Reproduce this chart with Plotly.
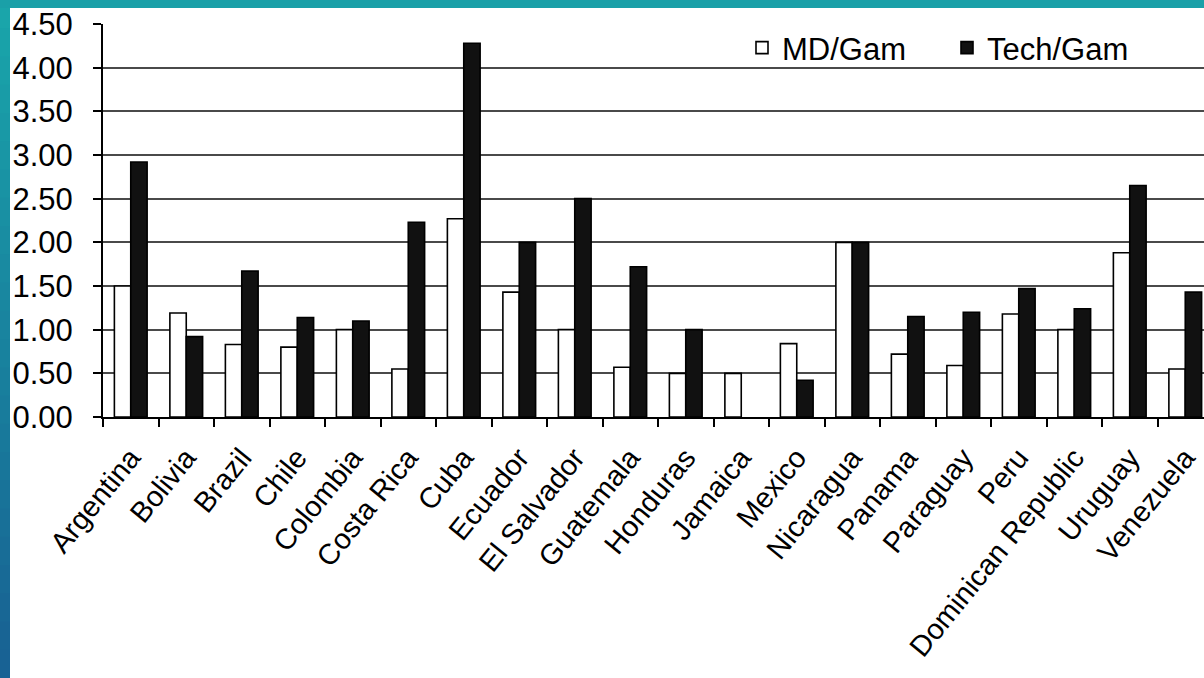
import plotly.graph_objects as go

countries = ["Argentina", "Bolivia", "Brazil", "Chile", "Colombia", "Costa Rica", "Cuba",
             "Ecuador", "El Salvador", "Guatemala", "Honduras", "Jamaica", "Mexico",
             "Nicaragua", "Panama", "Paraguay", "Peru", "Dominican Republic", "Uruguay",
             "Venezuela"]
md_gam = [1.50, 1.19, 0.83, 0.80, 1.00, 0.55, 2.27, 1.43, 1.00, 0.57, 0.50, 0.50, 0.84,
          2.00, 0.72, 0.59, 1.18, 1.00, 1.88, 0.55]
tech_gam = [2.92, 0.92, 1.67, 1.14, 1.10, 2.23, 4.28, 2.00, 2.50, 1.72, 1.00, None, 0.42,
            2.00, 1.15, 1.20, 1.47, 1.24, 2.65, 1.43]
y_ticks = [0, 0.5, 1.0, 1.5, 2.0, 2.5, 3.0, 3.5, 4.0, 4.5]

W, H = 1204, 678
L, T, B = 103, 24, 261
PW = W - L
PH = H - T - B

def px_x(p):
    return (p - L) / PW

def px_y(q):
    return (H - B - q) / PH

FONT = "Liberation Sans, Arial, sans-serif"

fig = go.Figure()
fig.add_trace(go.Bar(name="MD/Gam", x=countries, y=md_gam,
                     marker=dict(color="white", line=dict(color="black", width=1.6))))
fig.add_trace(go.Bar(name="Tech/Gam", x=countries, y=tech_gam,
                     marker=dict(color="#111111", line=dict(color="black", width=1.6))))

# decorative slide background strips (teal gradient)
shapes = []
top_c = (26, 165, 170)
bot_c = (24, 98, 148)
n = 24
for i in range(n):
    t = i / (n - 1)
    c = tuple(int(top_c[k] + (bot_c[k] - top_c[k]) * t) for k in range(3))
    q0 = i * H / n
    q1 = (i + 1) * H / n + 1
    shapes.append(dict(type="rect", xref="paper", yref="paper",
                       x0=px_x(0), x1=px_x(10), y0=px_y(q1), y1=px_y(q0),
                       fillcolor="rgb(%d,%d,%d)" % c, line=dict(width=0), layer="below"))
shapes.append(dict(type="rect", xref="paper", yref="paper",
                   x0=px_x(0), x1=px_x(W + 5), y0=px_y(8), y1=px_y(0),
                   fillcolor="rgb(26,160,168)", line=dict(width=0), layer="below"))

fig.update_layout(
    width=W, height=H,
    margin=dict(l=L, r=0, t=T, b=B, pad=0),
    paper_bgcolor="white", plot_bgcolor="white",
    barmode="group", bargap=0.41, bargroupgap=0,
    font=dict(family=FONT, color="black", size=29),
    shapes=shapes,
    showlegend=True,
    legend=dict(orientation="h", x=px_x(742), xanchor="left", y=px_y(48), yanchor="middle",
                bgcolor="rgba(0,0,0,0)", font=dict(size=31, family=FONT),
                traceorder="normal", itemwidth=30, entrywidth=160),
    xaxis=dict(
        type="category", range=[-0.5, -0.5 + PW / 55.5],
        showline=True, linecolor="black", linewidth=2,
        ticks="outside", tickson="boundaries", ticklen=8, tickwidth=2, tickcolor="black",
        tickangle=-51, tickfont=dict(size=29, family=FONT), ticklabelstandoff=10,
        showgrid=False, fixedrange=True,
    ),
    yaxis=dict(
        range=[0, 4.5], tickvals=y_ticks, tickformat=".2f",
        showline=True, linecolor="black", linewidth=2,
        ticks="outside", ticklen=8, tickwidth=2, tickcolor="black",
        showgrid=True, gridcolor="#4a4a4a", gridwidth=1.6,
        tickfont=dict(size=31, family=FONT), ticklabelstandoff=14,
        zeroline=False, fixedrange=True,
    ),
)

fig.write_html("out.html", config={"displayModeBar": False},
               post_script="document.body.style.margin='0px';document.body.style.overflow='hidden';")
